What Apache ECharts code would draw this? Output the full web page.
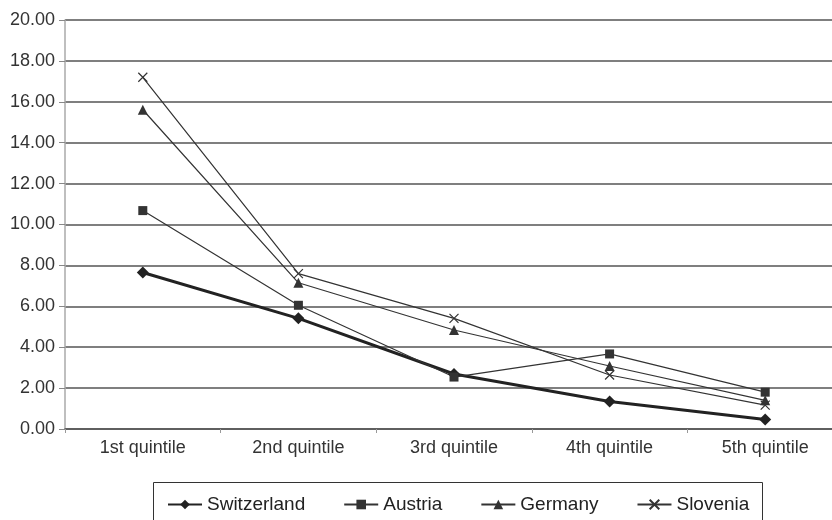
<!DOCTYPE html>
<html><head><meta charset="utf-8">
<script src="https://cdn.jsdelivr.net/npm/echarts@6/dist/echarts.min.js"></script>
<style>html,body{margin:0;padding:0;background:#fff}#c{width:832px;height:520px}</style>
</head><body><div id="c"></div>
<script>
const categories = ['1st quintile','2nd quintile','3rd quintile','4th quintile','5th quintile'];
const switzerland = [7.65, 5.41, 2.69, 1.34, 0.47];
const austria = [10.68, 6.05, 2.54, 3.67, 1.80];
const germany = [15.61, 7.15, 4.84, 3.08, 1.40];
const slovenia = [17.20, 7.60, 5.41, 2.64, 1.17];
const seriesNames = ['Switzerland','Austria','Germany','Slovenia'];

const chart = echarts.init(document.getElementById('c'));
const font = 'Liberation Sans, Arial, sans-serif';
const crossPath = 'path://M0,0L10,10M10,0L0,10';
chart.setOption({
  animation: false,
  backgroundColor: '#fff',
  grid: { left: 65, top: 20, right: -11, bottom: 91, containLabel: false, outerBoundsMode: 'none' },
  xAxis: {
    type: 'category', data: categories, boundaryGap: true,
    axisLine: { show: true, lineStyle: { color: '#555', width: 1.5 } },
    axisTick: { show: true, alignWithLabel: false, length: 4, lineStyle: { color: '#999' } },
    axisLabel: { color: '#333', fontSize: 18, fontFamily: font, margin: 10 }
  },
  yAxis: {
    type: 'value', min: 0, max: 20, interval: 2,
    axisLine: { show: true, lineStyle: { color: '#aaa', width: 1.5 } },
    axisTick: { show: true, length: 6, lineStyle: { color: '#888' } },
    axisLabel: { color: '#333', fontSize: 18, fontFamily: font, margin: 10, formatter: v => v.toFixed(2) },
    splitLine: { show: true, lineStyle: { color: '#555', width: 1.5 } }
  },
  legend: {
    data: seriesNames, left: 162, top: 490, itemWidth: 34, itemHeight: 12, itemGap: 38,
    textStyle: { color: '#222', fontSize: 19, fontFamily: font }
  },
  graphic: [{ type: 'rect', shape: { x: 153.5, y: 482.5, width: 609, height: 50 }, style: { fill: 'none', stroke: '#333', lineWidth: 1 }, z: 100 }],
  series: [
    { name: 'Switzerland', type: 'line', data: switzerland, symbol: 'diamond', symbolSize: 12,
      lineStyle: { color: '#222', width: 3 }, itemStyle: { color: '#222' } },
    { name: 'Austria', type: 'line', data: austria, symbol: 'rect', symbolSize: 9,
      lineStyle: { color: '#333', width: 1.2 }, itemStyle: { color: '#333' } },
    { name: 'Germany', type: 'line', data: germany, symbol: 'triangle', symbolSize: 10,
      lineStyle: { color: '#333', width: 1.2 }, itemStyle: { color: '#333' } },
    { name: 'Slovenia', type: 'line', data: slovenia, symbol: crossPath, symbolSize: 9,
      lineStyle: { color: '#333', width: 1.2 }, itemStyle: { color: 'none', borderColor: '#333', borderWidth: 1.2 } }
  ]
});
</script></body></html>
